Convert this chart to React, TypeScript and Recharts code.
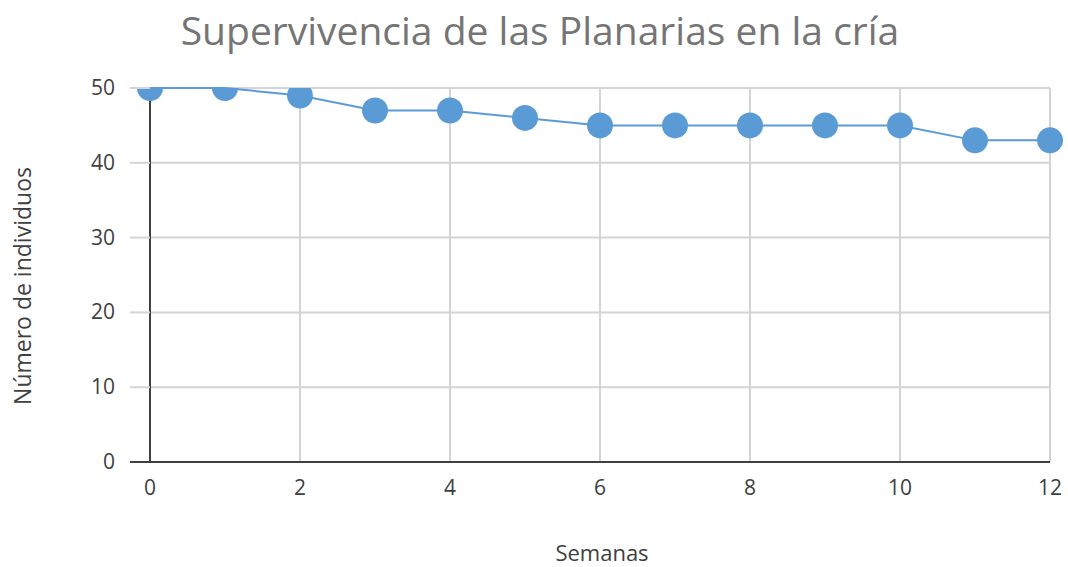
import { LineChart, Line, XAxis, YAxis, CartesianGrid } from "recharts";

document.body.style.margin = "0";

const weeks = [0, 1, 2, 3, 4, 5, 6, 7, 8, 9, 10, 11, 12];
const individuals = [50, 50, 49, 47, 47, 46, 45, 45, 45, 45, 45, 43, 43];
const xTicks = [0, 2, 4, 6, 8, 10, 12];
const yTicks = [0, 10, 20, 30, 40, 50];

const title = "Supervivencia de las Planarias en la cría";
const xLabel = "Semanas";
const yLabel = "Número de individuos";

const data = weeks.map((w, i) => ({ semana: w, individuos: individuals[i] }));

const FONT = "'Open Sans', sans-serif";
const BLUE = "#5B9BD5";
const GRID = "#d4d4d4";
const AXIS = "#404040";
const PLOT_TOP = 88;

const YTick = (props: any) => {
  const { x, y, payload } = props;
  const lineColor = payload.value === 0 ? AXIS : GRID;
  return (
    <g>
      <line x1={x + 15} x2={x + 35} y1={y} y2={y} stroke={lineColor} strokeWidth={2} />
      <text x={x} y={y} dy={7} textAnchor="end" fill={AXIS} fontSize={21} fontFamily={FONT}>
        {payload.value}
      </text>
    </g>
  );
};

// dots are cut off at the top edge of the plot, like the original
const Dot = (props: any) => {
  const { cx, cy, index } = props;
  if (cx == null || cy == null) return null;
  const id = `dotclip-${index}`;
  return (
    <g key={id}>
      <defs>
        <clipPath id={id}>
          <rect x={cx - 20} y={PLOT_TOP} width={40} height={500} />
        </clipPath>
      </defs>
      <circle cx={cx} cy={cy} r={13} fill={BLUE} clipPath={`url(#${id})`} />
    </g>
  );
};

export default function App() {
  return (
    <div style={{ position: "relative", width: 1068, height: 567, background: "#fff" }}>
      <div
        style={{
          position: "absolute",
          top: 3,
          left: 0,
          width: 1080,
          textAlign: "center",
          fontFamily: FONT,
          fontSize: 39,
          color: "#757575",
        }}
      >
        {title}
      </div>
      <div
        style={{
          position: "absolute",
          top: 537,
          left: 0,
          width: 1204,
          textAlign: "center",
          fontFamily: FONT,
          fontSize: 22,
          color: AXIS,
        }}
      >
        {xLabel}
      </div>
      <div
        style={{
          position: "absolute",
          left: 22,
          top: 286,
          transform: "translate(-50%, -50%) rotate(-90deg)",
          whiteSpace: "nowrap",
          fontFamily: FONT,
          fontSize: 23,
          color: AXIS,
        }}
      >
        {yLabel}
      </div>
      <div style={{ position: "absolute", left: 0, top: 0 }}>
        <LineChart width={1068} height={567} data={data} margin={{ top: PLOT_TOP, right: 18, left: 0, bottom: 0 }}>
          <CartesianGrid stroke={GRID} strokeWidth={2} />
          <XAxis
            dataKey="semana"
            type="number"
            domain={[0, 12]}
            ticks={xTicks}
            height={105}
            tickLine={false}
            tickSize={0}
            tickMargin={18}
            axisLine={{ stroke: AXIS, strokeWidth: 2 }}
            tick={{ fill: AXIS, fontSize: 21, fontFamily: FONT }}
          />
          <YAxis
            type="number"
            domain={[0, 50]}
            ticks={yTicks}
            width={150}
            tickSize={20}
            tickMargin={15}
            tickLine={false}
            axisLine={{ stroke: AXIS, strokeWidth: 2 }}
            tick={<YTick />}
          />
          <Line
            dataKey="individuos"
            stroke={BLUE}
            strokeWidth={2}
            dot={<Dot />}
            isAnimationActive={false}
          />
        </LineChart>
      </div>
    </div>
  );
}
